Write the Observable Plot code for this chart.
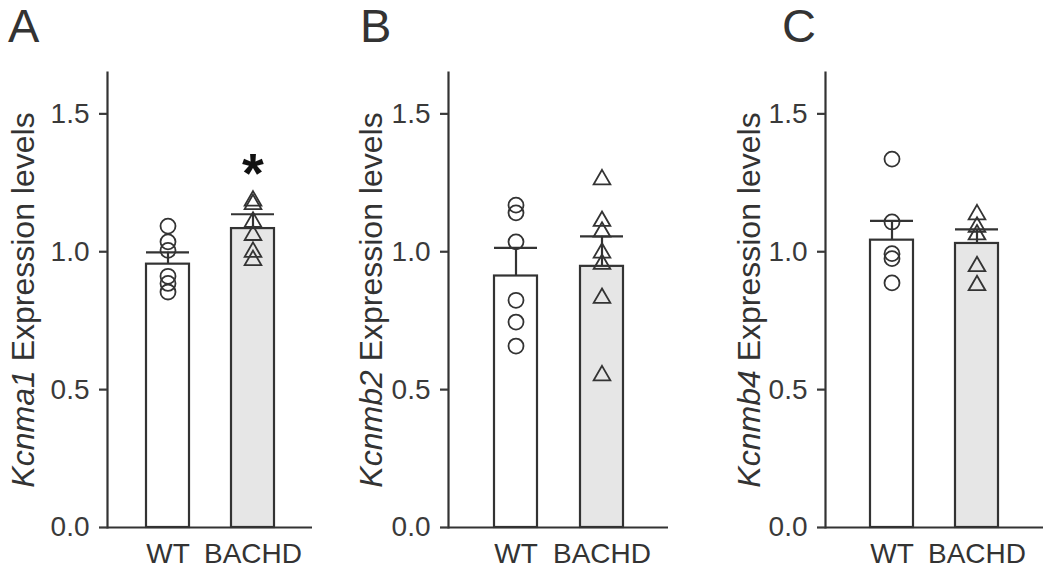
<!DOCTYPE html>
<html><head><meta charset="utf-8">
<script src="https://cdn.jsdelivr.net/npm/d3@7"></script>
<script src="https://cdn.jsdelivr.net/npm/@observablehq/plot@0.6"></script>
<style>
body{margin:0;background:#fff;}
#wrap{position:relative;width:1050px;height:571px;font-family:"Liberation Sans",Arial,sans-serif;}
.panel{position:absolute;top:0;}
</style></head><body><div id="wrap"></div>
<script>
// ---- data ----
const groups = ["WT", "BACHD"];
const panelLetters = ["A", "B", "C"];
const genes = ["Kcnma1", "Kcnmb2", "Kcnmb4"];
const meanWT = [0.955, 0.912, 1.042];
const meanBACHD = [1.084, 0.947, 1.030];
const semWT = [0.043, 0.102, 0.070];
const semBACHD = [0.052, 0.109, 0.051];
const ptsWT = [
  [1.093, 1.036, 1.005, 0.911, 0.885, 0.854],
  [1.169, 1.141, 1.036, 0.824, 0.745, 0.658],
  [1.336, 1.108, 0.993, 0.975, 0.887]
];
const ptsBACHD = [
  [1.185, 1.172, 1.108, 1.060, 0.999, 0.969],
  [1.262, 1.111, 1.072, 0.996, 0.955, 0.832, 0.551],
  [1.135, 1.090, 1.062, 0.947, 0.878]
];
const starPanels = [0];
const starY = [1.36];
const yTicks = [0, 0.5, 1.0, 1.5];
const yMax = 1.65;

// ---- layout (not data) ----
const layout = [
  {left: 0,   ml: 107, mr: 38, po: 0.442, titleX: 34, letterX: 8},
  {left: 350, ml: 98,  mr: 32, po: 0.529, titleX: 32, letterX: 10},
  {left: 700, ml: 125, mr: 7,  po: 0.525, titleX: 60, letterX: 82}
];
const ink = "#333";
const font = '"Liberation Sans", Arial, sans-serif';

const wrap = document.getElementById("wrap");
genes.forEach((gene, i) => {
  const L = layout[i];
  const bars = [
    {group: "WT", mean: meanWT[i], upper: meanWT[i] + semWT[i]},
    {group: "BACHD", mean: meanBACHD[i], upper: meanBACHD[i] + semBACHD[i]}
  ];
  const pw = ptsWT[i].map(v => ({group: "WT", value: v}));
  const pb = ptsBACHD[i].map(v => ({group: "BACHD", value: v}));
  const stars = starPanels.map((p, k) => ({p, y: starY[k]})).filter(d => d.p === i)
    .map(d => ({group: "BACHD", y: d.y, label: "*"}));

  const chart = Plot.plot({
    width: 350, height: 571,
    marginTop: 72, marginBottom: 44, marginLeft: L.ml, marginRight: L.mr,
    style: {fontFamily: font, color: ink, background: "transparent", overflow: "visible"},
    x: {domain: groups, paddingInner: 0.5, paddingOuter: L.po, label: null},
    y: {domain: [0, yMax], label: null},
    color: {domain: groups, range: ["#ffffff", "#e6e6e6"]},
    marks: [
      Plot.barY(bars, {x: "group", y: "mean", fill: "group", stroke: ink, strokeWidth: 2.2}),
      Plot.ruleX(bars, {x: "group", y1: "mean", y2: "upper", stroke: ink, strokeWidth: 2.2}),
      Plot.tickY(bars, {x: "group", y: "upper", stroke: ink, strokeWidth: 2.2}),
      Plot.dot(pw, {x: "group", y: "value", symbol: "circle", r: 7.5, stroke: ink, strokeWidth: 1.8, fill: "none"}),
      Plot.dot(pb, {x: "group", y: "value", symbol: "triangle", r: 6.2, stroke: ink, strokeWidth: 1.8, fill: "none"}),
      Plot.frame({anchor: "left", stroke: ink, strokeWidth: 2.2}),
      Plot.ruleY([0], {stroke: ink, strokeWidth: 2.2}),
      Plot.axisY({ticks: yTicks, tickSize: 8, tickPadding: 10, tickFormat: d3.format(".1f"),
                  label: null, fontSize: 28, strokeWidth: 2.2, color: "#3a3a3a"}),
      Plot.axisX({tickSize: 0, tickPadding: 16, label: null, fontSize: 28, color: "#333"}),
      Plot.text(stars, {x: "group", y: "y", text: "label", lineAnchor: "top", fontSize: 56,
                        fontWeight: "bold", fill: "#111"})
    ]
  });
  const div = document.createElement("div");
  div.className = "panel";
  div.style.left = L.left + "px";
  div.appendChild(chart);
  wrap.appendChild(div);

  const svg = d3.select(chart);
  const t = svg.append("text")
    .attr("transform", `translate(${L.titleX},300) rotate(-90)`)
    .attr("text-anchor", "middle")
    .attr("font-size", 32)
    .attr("font-family", font)
    .attr("fill", ink);
  t.append("tspan").attr("font-style", "italic").text(gene);
  t.append("tspan").text(" Expression levels");
  svg.append("text")
    .attr("x", L.letterX).attr("y", 42)
    .attr("text-anchor", "start")
    .attr("font-size", 47).attr("font-family", font)
    .attr("fill", ink)
    .text(panelLetters[i]);
});
</script></body></html>
